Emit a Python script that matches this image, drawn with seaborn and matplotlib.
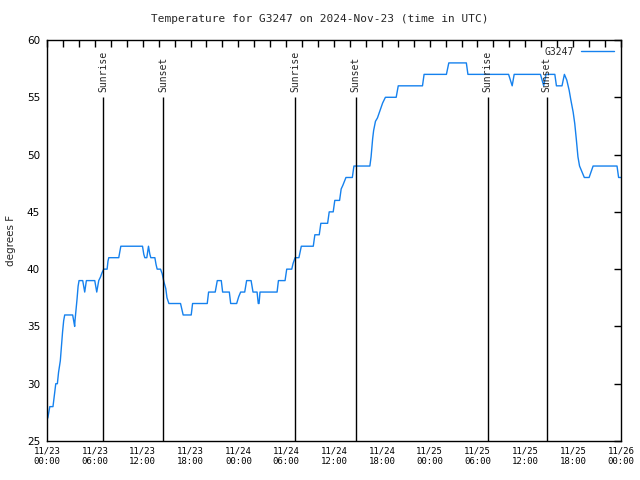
import matplotlib
matplotlib.use("Agg")
import matplotlib.pyplot as plt
import seaborn as sns
import pandas as pd

# Hours since 2024-11-23 00:00 UTC and temperature (degrees F)
hours = [0.1, 0.35, 0.75, 0.92, 1.1, 1.3, 1.45, 1.67, 1.84, 1.95, 2.09, 2.22, 3.22, 3.35, 3.47, 3.51,
         3.65, 3.77, 3.9, 4.02, 4.48, 4.73, 4.94, 5.99, 6.24, 6.49, 6.70, 6.91, 7.12, 7.54, 7.65, 7.75,
         9.00, 9.13, 9.26, 11.98, 12.14, 12.27, 12.52, 12.73, 12.90, 13.02, 13.53, 13.68, 13.82, 14.24,
         14.45, 14.66, 14.9, 15.05, 15.29, 16.75, 16.95, 17.08, 18.09, 18.26, 20.10, 20.27, 21.1, 21.36,
         21.86, 22.03, 22.87, 23.04, 23.79, 24.05, 24.29, 24.8, 25.04, 25.6, 25.84, 26.35, 26.5, 26.6,
         26.72, 28.86, 29.03, 29.86, 30.07, 30.7, 30.87, 31.12, 31.6, 31.9, 33.4, 33.6, 34.15, 34.35,
         35.2, 35.4, 35.9, 36.1, 36.7, 36.9, 37.1, 37.5, 38.3, 38.5, 40.5, 40.65, 40.85, 40.97, 41.2,
         41.45, 41.85, 42.1, 42.45, 43.8, 44.06, 47.1, 47.3, 50.1, 50.4, 52.6, 52.8, 57.9, 58.35, 58.6,
         61.9, 62.3, 62.6, 63.7, 63.9, 64.6, 64.9, 65.2, 65.5, 65.7, 66.0, 66.2, 66.4, 66.6, 66.8, 67.1,
         67.4, 68.0, 68.5, 71.5, 71.7, 72.0]
temps = [27, 28, 28, 29, 30, 30, 31, 32, 33.5, 34.5, 35.5, 36, 36, 35.5, 35, 35.5,
         36.5, 37.4, 38.5, 39, 39, 38, 39, 39, 38, 39, 39.3, 39.7, 40, 40, 40.7, 41,
         41, 41.5, 42, 42, 41.3, 41, 41, 42, 41.3, 41, 41, 40.4, 40, 40,
         39.6, 38.9, 38.3, 37.5, 37, 37, 36.4, 36, 36, 37, 37, 38, 38, 39,
         39, 38, 38, 37, 37, 37.6, 38, 38, 39, 39, 38, 38, 37, 37,
         38, 38, 39, 39, 40, 40, 40.5, 41, 41, 42, 42, 43, 43, 44,
         44, 45, 45, 46, 46, 47, 47.3, 48, 48, 49, 49, 49.8, 51.4, 52.1, 52.9,
         53.2, 54, 54.5, 55, 55, 56, 56, 57, 57, 58, 58, 57, 57, 56, 57,
         57, 56, 57, 57, 56, 56, 57, 56.5, 55.6, 54.8, 53.7, 52.7, 51.3, 49.8, 49, 48.5,
         48, 48, 49, 49, 48, 48]

sunrise_hours = [7.05, 31.15, 55.3]
sunset_hours = [14.6, 38.7, 62.7]

tick_hours = [0, 6, 12, 18, 24, 30, 36, 42, 48, 54, 60, 66, 72]
tick_labels = ["11/23\n00:00", "11/23\n06:00", "11/23\n12:00", "11/23\n18:00",
               "11/24\n00:00", "11/24\n06:00", "11/24\n12:00", "11/24\n18:00",
               "11/25\n00:00", "11/25\n06:00", "11/25\n12:00", "11/25\n18:00",
               "11/26\n00:00"]
y_ticks = [25, 30, 35, 40, 45, 50, 55, 60]

sns.set_style("white")
plt.rcParams['font.family'] = ['DejaVu Sans']

df = pd.DataFrame({"hour": hours, "temp": temps})

fig = plt.figure(figsize=(6.4, 4.8), dpi=100)
ax = fig.add_axes([47 / 640, 1 - 441 / 480, 574 / 640, 401 / 480])

sns.lineplot(data=df, x="hour", y="temp", color="#1581ee", linewidth=1.0,
             label="G3247", ax=ax, estimator=None, sort=False)

ax.vlines(sunrise_hours + sunset_hours, 25, 55, color="black", linewidth=1.0)
for t in sunrise_hours:
    ax.text(t, 55.5, "Sunrise", rotation=90, ha="center", va="bottom",
            family="DejaVu Sans Mono", fontsize=7)
for t in sunset_hours:
    ax.text(t, 55.5, "Sunset", rotation=90, ha="center", va="bottom",
            family="DejaVu Sans Mono", fontsize=7)

ax.set_xlim(0, 72)
ax.set_ylim(25, 60)
ax.set_xticks(tick_hours)
ax.set_xticklabels(tick_labels, family="DejaVu Sans Mono", fontsize=6.5)
ax.set_xticks(list(range(0, 73, 2)), minor=True)
ax.set_yticks(y_ticks)
ax.set_yticklabels([str(v) for v in y_ticks], fontsize=7.5)
ax.tick_params(axis="both", which="both", direction="in", length=5, width=1,
               top=True, right=True, colors="black")
ax.tick_params(axis="x", which="major", pad=4)
ax.tick_params(axis="y", which="major", pad=5)

for s in ax.spines.values():
    s.set_color("black")
    s.set_linewidth(1.0)

ax.set_xlabel("")
ax.set_ylabel("degrees F", fontsize=7.5, labelpad=8)

leg = ax.legend(loc="upper right", frameon=False, markerfirst=False,
                handlelength=3.4, borderaxespad=0.3, handletextpad=0.7,
                prop={"family": "DejaVu Sans Mono", "size": 7})

fig.text(0.5, 1 - 19 / 480, "Temperature for G3247 on 2024-Nov-23 (time in UTC)",
         ha="center", va="center", family="DejaVu Sans Mono", fontsize=8)

fig.savefig("out.png", dpi=100)
